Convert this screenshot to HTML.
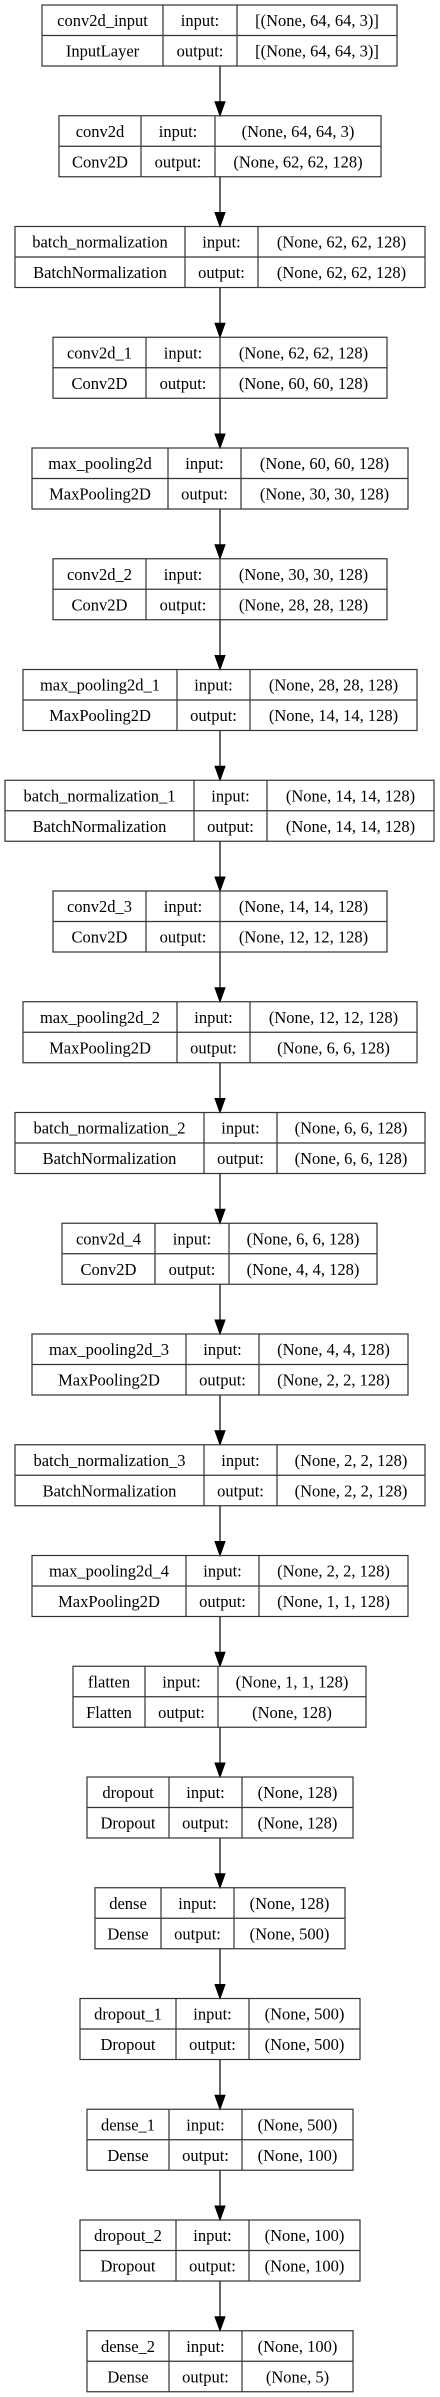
<!DOCTYPE html>
<html><head><meta charset="utf-8"><style>
html,body{margin:0;padding:0;background:#fff;}
svg{display:block;}
text{font-family:"Liberation Serif",serif;font-size:16.5px;fill:#000;text-anchor:middle;}
rect,line.d{fill:none;stroke:#333;stroke-width:1.2;}
line.a{stroke:#333;stroke-width:1.5;}
polygon{fill:#000;stroke:#000;stroke-width:1;}
</style></head><body>
<svg id="s" width="440" height="2397" xmlns="http://www.w3.org/2000/svg"></svg>
<script>
var B=[
["conv2d_input","InputLayer","[(None, 64, 64, 3)]","[(None, 64, 64, 3)]",42,163,237,397],
["conv2d","Conv2D","(None, 64, 64, 3)","(None, 62, 62, 128)",59,141,215,381],
["batch_normalization","BatchNormalization","(None, 62, 62, 128)","(None, 62, 62, 128)",15,185,258,425],
["conv2d_1","Conv2D","(None, 62, 62, 128)","(None, 60, 60, 128)",53,146,220,387],
["max_pooling2d","MaxPooling2D","(None, 60, 60, 128)","(None, 30, 30, 128)",32,168,241,408],
["conv2d_2","Conv2D","(None, 30, 30, 128)","(None, 28, 28, 128)",53,146,220,387],
["max_pooling2d_1","MaxPooling2D","(None, 28, 28, 128)","(None, 14, 14, 128)",23,177,250,417],
["batch_normalization_1","BatchNormalization","(None, 14, 14, 128)","(None, 14, 14, 128)",5,194,267,434],
["conv2d_3","Conv2D","(None, 14, 14, 128)","(None, 12, 12, 128)",53,146,220,387],
["max_pooling2d_2","MaxPooling2D","(None, 12, 12, 128)","(None, 6, 6, 128)",23,177,250,417],
["batch_normalization_2","BatchNormalization","(None, 6, 6, 128)","(None, 6, 6, 128)",15,204,277,425],
["conv2d_4","Conv2D","(None, 6, 6, 128)","(None, 4, 4, 128)",62,155,229,377],
["max_pooling2d_3","MaxPooling2D","(None, 4, 4, 128)","(None, 2, 2, 128)",32,186,259,408],
["batch_normalization_3","BatchNormalization","(None, 2, 2, 128)","(None, 2, 2, 128)",15,204,277,425],
["max_pooling2d_4","MaxPooling2D","(None, 2, 2, 128)","(None, 1, 1, 128)",32,186,259,408],
["flatten","Flatten","(None, 1, 1, 128)","(None, 128)",73,145,218,366],
["dropout","Dropout","(None, 128)","(None, 128)",87,169,242,353],
["dense","Dense","(None, 128)","(None, 500)",95,161,234,345],
["dropout_1","Dropout","(None, 500)","(None, 500)",80,176,249,360],
["dense_1","Dense","(None, 500)","(None, 100)",87,169,242,353],
["dropout_2","Dropout","(None, 100)","(None, 100)",80,176,249,360],
["dense_2","Dense","(None, 100)","(None, 5)",87,169,242,353]];
var h="";
B.forEach(function(b,i){
 var t=5+i*110.75,x1=b[4],d1=b[5],d2=b[6],x2=b[7],H=61;
 h+='<rect x="'+x1+'" y="'+t+'" width="'+(x2-x1)+'" height="'+H+'"/>';
 h+='<line class="d" x1="'+x1+'" y1="'+(t+30.5)+'" x2="'+x2+'" y2="'+(t+30.5)+'"/>';
 h+='<line class="d" x1="'+d1+'" y1="'+t+'" x2="'+d1+'" y2="'+(t+H)+'"/>';
 h+='<line class="d" x1="'+d2+'" y1="'+t+'" x2="'+d2+'" y2="'+(t+H)+'"/>';
 var c0=(x1+d1)/2,c1=(d1+d2)/2,c2=(d2+x2)/2,y1=t+21,y2=t+51.5;
 h+='<text x="'+c0+'" y="'+y1+'">'+b[0]+'</text><text x="'+c0+'" y="'+y2+'">'+b[1]+'</text>';
 h+='<text x="'+c1+'" y="'+y1+'">input:</text><text x="'+c1+'" y="'+y2+'">output:</text>';
 h+='<text x="'+c2+'" y="'+y1+'">'+b[2]+'</text><text x="'+c2+'" y="'+y2+'">'+b[3]+'</text>';
 if(i<B.length-1){
  var nt=5+(i+1)*110.75;
  h+='<line class="a" x1="220" y1="'+(t+H)+'" x2="220" y2="'+(nt-13)+'"/>';
  h+='<polygon points="215,'+(nt-14)+' 225,'+(nt-14)+' 220,'+nt+'"/>';
 }
});
document.getElementById("s").innerHTML=h;
</script>
</body></html>
